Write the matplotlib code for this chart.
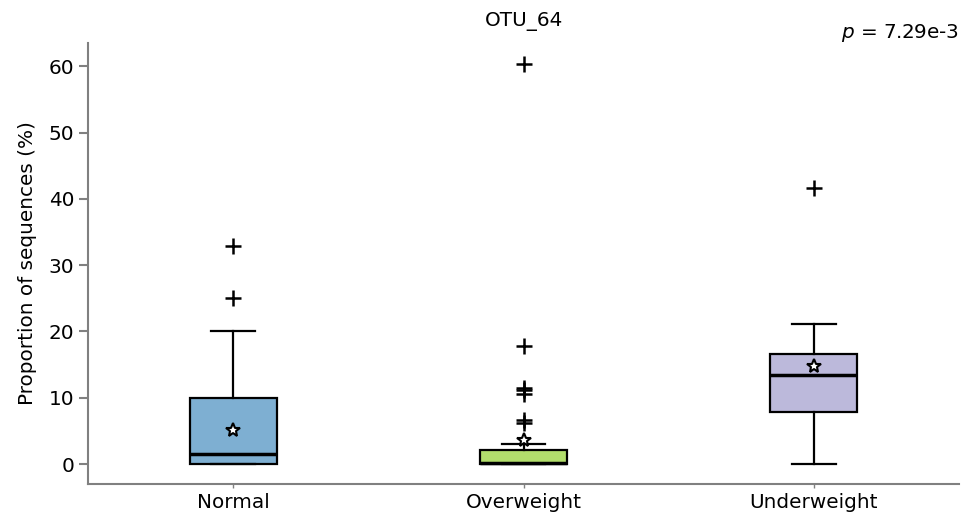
import matplotlib
matplotlib.use("Agg")
import matplotlib.pyplot as plt

# ------------------------------------------------------------
# Data (proportion of sequences, %)
groups = ["Normal", "Overweight", "Underweight"]
colors = ["#7eafd2", "#b2de6c", "#bcb9db"]

whislo = [0.0, 0.0, 0.0]
q1 = [0.0, 0.0, 7.8]
med = [1.5, 0.2, 13.4]
q3 = [10.0, 2.1, 16.6]
whishi = [20.1, 3.0, 21.1]
means = [5.1, 3.6, 14.8]
fliers = [
    [25.1, 32.9],
    [6.2, 6.6, 10.6, 11.1, 11.5, 17.8, 60.4],
    [41.6],
]
p_value = "7.29e-3"
title = "OTU_64"

# ------------------------------------------------------------
stats = []
for i, name in enumerate(groups):
    stats.append(dict(label=name, whislo=whislo[i], q1=q1[i], med=med[i],
                      q3=q3[i], whishi=whishi[i], mean=means[i],
                      fliers=fliers[i]))

fs = 14.4
fig = plt.figure(figsize=(9.64, 5.21), dpi=100)
ax = fig.add_axes([0.0913, 0.071, 0.9035, 0.8465])

bp = ax.bxp(stats, positions=range(len(groups)), widths=0.3,
            patch_artist=True, showmeans=True,
            boxprops=dict(linewidth=1.6, edgecolor="black"),
            whiskerprops=dict(linewidth=1.6, color="black"),
            capprops=dict(linewidth=1.6, color="black"),
            medianprops=dict(linewidth=2.5, color="black"),
            meanprops=dict(marker="*", markerfacecolor="white",
                           markeredgecolor="black", markersize=10,
                           markeredgewidth=1.5),
            flierprops=dict(marker="+", markersize=11,
                            markeredgecolor="black", markeredgewidth=1.8))

for patch, c in zip(bp["boxes"], colors):
    patch.set_facecolor(c)

ax.set_xlim(-0.5, 2.5)
ax.set_ylim(-3.0, 63.5)
ax.set_yticks([0, 10, 20, 30, 40, 50, 60])
ax.set_ylabel("Proportion of sequences (%)", fontsize=fs, labelpad=8)
ax.tick_params(labelsize=fs, color="#808080", length=6.5, width=1.5)
ax.tick_params(axis="x", length=3, width=1)

# --- CLEAN SPINES
for s in ["top", "right"]:
    ax.spines[s].set_visible(False)
for s in ["left", "bottom"]:
    ax.spines[s].set_color("#808080")
    ax.spines[s].set_linewidth(1.5)

ax.set_title(title, fontsize=fs, pad=12)
fig.text(0.995, 0.937, r"$p$ = " + p_value, ha="right", va="center",
         fontsize=fs)

fig.savefig("out.png", dpi=100)
